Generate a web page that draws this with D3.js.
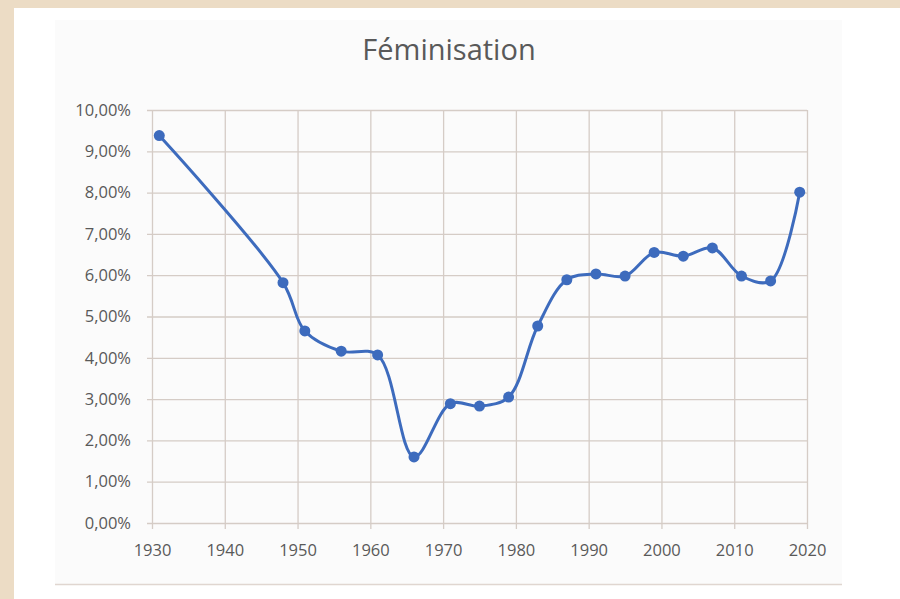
<html>
<script src='https://d3js.org/d3.v7.min.js'></script>
<style>
body {margin: 0; background: #ecdcc5;}
.grid line {stroke: #d5ccc6; stroke-width: 1.3;}
.grid path {display: none;}
.axis text {font: 16.5px 'Open Sans', sans-serif; fill: #595959;}
.axis path, .axis line {display: none;}
.title {font: 29px 'Open Sans', sans-serif; fill: #595959; text-anchor: middle;}
</style>
<body onload='init()'>
<svg width=900 height=599></svg>
<script>
// data
var years  = [1931, 1948, 1951, 1956, 1961, 1966, 1971, 1975, 1979, 1983, 1987, 1991, 1995, 1999, 2003, 2007, 2011, 2015, 2019];
var values = [9.38, 5.82, 4.65, 4.16, 4.07, 1.60, 2.89, 2.83, 3.05, 4.77, 5.89, 6.03, 5.98, 6.55, 6.46, 6.66, 5.98, 5.86, 8.01];
var xTicks = [1930, 1940, 1950, 1960, 1970, 1980, 1990, 2000, 2010, 2020];
var yTicks = [0, 1, 2, 3, 4, 5, 6, 7, 8, 9, 10];
var title = "Féminisation";

function init() {
var svg = d3.select("svg");

// white page + chart area
svg.append("rect").attr("x", 14).attr("y", 8).attr("width", 886).attr("height", 591).attr("fill", "#ffffff");
svg.append("rect").attr("x", 55).attr("y", 20).attr("width", 787).attr("height", 564).attr("fill", "#fbfbfb");
svg.append("line").attr("x1", 55).attr("x2", 842).attr("y1", 584.5).attr("y2", 584.5)
    .attr("stroke", "#e0d6d0").attr("stroke-width", 1.5);

var x = d3.scaleLinear().domain([1930, 2020]).range([152, 807]);
var y = d3.scaleLinear().domain([0, 10]).range([523, 110]);
var w = x.range()[1] - x.range()[0];
var h = y.range()[0] - y.range()[1];

var fr = d3.formatLocale({decimal: ",", thousands: " ", grouping: [3], currency: ["", "€"]});
var fmt = function(d) { return fr.format(".2f")(d) + "%"; };

// gridlines
var gy = svg.append("g").attr("class", "grid")
    .attr("transform", "translate(" + x.range()[0] + ",0)")
    .call(d3.axisLeft(y).tickValues(yTicks).tickSize(-w).tickFormat(""));
gy.selectAll("line").attr("x1", -5);

var gx = svg.append("g").attr("class", "grid")
    .attr("transform", "translate(0," + y.range()[0] + ")")
    .call(d3.axisBottom(x).tickValues(xTicks).tickSize(-h).tickFormat(""));
gx.selectAll("line").attr("y1", 6);

// tick labels
svg.append("g").attr("class", "axis")
    .attr("transform", "translate(" + x.range()[0] + ",0)")
    .call(d3.axisLeft(y).tickValues(yTicks).tickSize(0).tickPadding(21).tickFormat(fmt));

svg.append("g").attr("class", "axis")
    .attr("transform", "translate(0," + y.range()[0] + ")")
    .call(d3.axisBottom(x).tickValues(xTicks).tickSize(0).tickPadding(21).tickFormat(d3.format("d")));

// title
svg.append("text").attr("class", "title").attr("x", 449).attr("y", 60).text(title);

// series
var data = years.map(function(d, i) { return {year: d, value: values[i]}; });

var line = d3.line()
    .x(function(d) { return x(d.year); })
    .y(function(d) { return y(d.value); })
    .curve(d3.curveCatmullRom.alpha(0.5));

svg.append("path").datum(data)
    .attr("d", line)
    .attr("fill", "none")
    .attr("stroke", "#3d6bbd")
    .attr("stroke-width", 3);

svg.selectAll(".dot").data(data).enter()
    .append("circle")
    .attr("class", "dot")
    .attr("cx", function(d) { return x(d.year); })
    .attr("cy", function(d) { return y(d.value); })
    .attr("r", 5.5)
    .attr("fill", "#3d6bbd");
}
</script>
</body>
</html>
